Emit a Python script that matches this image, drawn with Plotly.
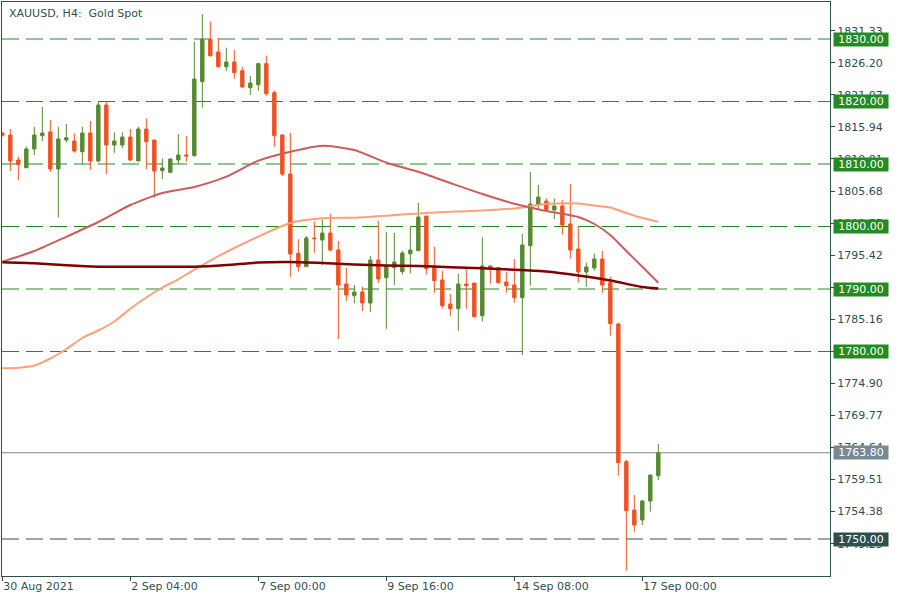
import plotly.graph_objects as go

# ---------------- data ----------------
bars = list(range(83))
opens = [1814.90, 1814.64, 1810.64, 1809.40, 1812.40, 1814.53, 1815.12, 1809.20, 1813.84, 1813.68,
         1811.97, 1814.96, 1810.48, 1819.44, 1813.04, 1813.04, 1814.32, 1810.48, 1815.60, 1813.84,
         1808.93, 1808.67, 1810.64, 1811.44, 1811.33, 1823.17, 1829.95, 1827.92, 1825.57, 1826.32,
         1824.93, 1822.21, 1822.69, 1826.05, 1821.41, 1814.64, 1808.40, 1795.71, 1793.57, 1798.16,
         1797.84, 1798.96, 1796.24, 1790.80, 1788.93, 1789.52, 1787.76, 1794.64, 1791.81, 1793.41,
         1792.77, 1795.65, 1796.13, 1801.68, 1793.57, 1791.44, 1787.60, 1786.85, 1790.80, 1790.96,
         1785.73, 1793.68, 1793.41, 1791.12, 1790.64, 1788.61, 1796.93, 1803.44, 1804.08, 1802.64,
         1803.28, 1800.40, 1796.40, 1792.72, 1793.36, 1794.80, 1791.01, 1784.40, 1762.37, 1754.64,
         1753.04, 1756.08, 1760.13]
highs = [1815.20, 1815.60, 1811.17, 1812.77, 1815.97, 1819.17, 1817.04, 1815.97, 1816.40, 1814.91,
         1815.97, 1816.88, 1819.97, 1820.08, 1815.07, 1815.07, 1815.60, 1815.97, 1817.31, 1813.84,
         1810.91, 1810.91, 1814.80, 1814.48, 1829.57, 1834.00, 1832.77, 1830.21, 1828.61, 1828.24,
         1825.57, 1824.08, 1826.21, 1827.33, 1821.73, 1814.80, 1814.96, 1797.95, 1798.48, 1800.77,
         1801.15, 1802.00, 1797.68, 1793.41, 1790.64, 1790.37, 1795.28, 1800.88, 1799.12, 1798.96,
         1796.08, 1799.92, 1803.81, 1801.68, 1796.72, 1792.88, 1789.20, 1792.40, 1793.25, 1790.96,
         1798.27, 1793.84, 1793.52, 1792.72, 1794.80, 1798.80, 1808.72, 1806.64, 1804.51, 1804.51,
         1804.24, 1806.80, 1799.92, 1794.21, 1795.65, 1796.08, 1791.97, 1784.61, 1762.64, 1757.04,
         1756.24, 1760.24, 1765.20]
lows = [1814.40, 1808.88, 1807.44, 1809.36, 1811.44, 1813.68, 1808.72, 1801.41, 1813.41, 1811.81,
        1809.95, 1809.04, 1810.27, 1808.40, 1811.81, 1812.51, 1810.48, 1810.48, 1809.20, 1804.61,
        1807.60, 1808.51, 1809.95, 1810.37, 1811.17, 1819.01, 1827.17, 1825.41, 1824.93, 1823.65,
        1822.21, 1821.04, 1821.73, 1820.93, 1812.77, 1808.08, 1791.97, 1792.77, 1793.57, 1795.81,
        1793.84, 1796.08, 1782.00, 1788.08, 1787.71, 1786.48, 1786.32, 1790.96, 1783.65, 1790.64,
        1792.29, 1792.45, 1796.13, 1792.29, 1789.41, 1786.85, 1785.73, 1783.33, 1786.85, 1785.41,
        1784.77, 1790.85, 1790.85, 1789.41, 1787.81, 1779.44, 1790.53, 1802.75, 1802.48, 1801.20,
        1798.69, 1794.85, 1791.01, 1790.37, 1792.93, 1789.41, 1782.53, 1760.13, 1744.93, 1751.17,
        1752.24, 1754.37, 1759.44]
closes = [1814.60, 1810.48, 1809.90, 1812.40, 1814.64, 1814.96, 1809.20, 1814.00, 1814.21, 1812.08,
          1814.96, 1810.48, 1819.44, 1813.04, 1813.68, 1814.32, 1810.64, 1815.60, 1813.57, 1808.88,
          1809.36, 1810.80, 1811.44, 1811.28, 1823.60, 1829.95, 1827.33, 1825.57, 1826.32, 1824.61,
          1822.32, 1822.96, 1826.05, 1821.25, 1814.53, 1808.40, 1795.60, 1793.57, 1798.16, 1798.05,
          1798.96, 1796.24, 1790.64, 1789.04, 1789.52, 1787.76, 1794.64, 1791.60, 1793.68, 1794.32,
          1795.76, 1796.24, 1801.52, 1793.25, 1791.33, 1787.33, 1786.85, 1790.80, 1790.53, 1785.57,
          1793.68, 1793.36, 1791.01, 1790.53, 1788.61, 1797.04, 1803.60, 1804.72, 1802.64, 1803.28,
          1800.24, 1796.24, 1792.72, 1793.52, 1794.80, 1790.64, 1784.48, 1762.21, 1754.53, 1752.24,
          1756.08, 1760.24, 1763.80]

# moving averages (bar index, price)
ma_fast_bars = [0, 4, 8, 12, 16, 20, 24, 28, 32, 36, 40, 44, 48, 52, 56, 60, 64, 68, 72, 74, 76, 78, 80, 82]
ma_fast = [1794.37, 1796.08, 1798.35, 1800.72, 1803.44, 1805.36, 1806.32, 1807.97, 1810.53, 1811.97,
           1812.93, 1812.24, 1810.21, 1808.77, 1806.96, 1805.20, 1803.65, 1802.48, 1801.52, 1800.40,
           1798.64, 1796.08, 1793.57, 1791.01]
ma_mid_bars = [0, 2, 4, 6, 8, 10, 12, 14, 16, 18, 20, 22, 24, 28, 32, 36, 40, 44, 48, 52, 56, 60,
               64, 68, 72, 74, 76, 78, 80, 82]
ma_mid = [1777.31, 1777.39, 1777.76, 1778.88, 1780.40, 1782.16, 1783.36, 1784.80, 1786.84, 1788.64,
          1790.24, 1791.55, 1793.10, 1795.92, 1798.40, 1800.56, 1801.31, 1801.41, 1801.73, 1802.08,
          1802.35, 1802.56, 1802.88, 1803.60, 1803.68, 1803.36, 1803.04, 1802.16, 1801.36, 1800.77]
ma_slow_bars = [0, 4, 8, 12, 16, 20, 24, 28, 32, 36, 40, 44, 48, 52, 56, 60, 64, 68, 72, 76, 80, 82]
ma_slow = [1794.27, 1794.11, 1793.79, 1793.57, 1793.57, 1793.57, 1793.57, 1793.84, 1794.24, 1794.32,
           1794.16, 1793.92, 1793.76, 1793.68, 1793.49, 1793.31, 1793.07, 1792.80, 1792.16, 1791.36,
           1790.32, 1790.08]

time_tick_bars = [0, 16, 32, 48, 64, 80]
time_tick_labels = ["30 Aug 2021", "2 Sep 04:00", "7 Sep 00:00", "9 Sep 16:00", "14 Sep 08:00", "17 Sep 00:00"]
price_ticks = [1749.25, 1754.38, 1759.51, 1764.64, 1769.77, 1774.90, 1780.03, 1785.16, 1790.29,
               1795.42, 1800.55, 1805.68, 1810.81, 1815.94, 1821.07, 1826.20, 1831.33]
level_prices = [1830.00, 1820.00, 1810.00, 1800.00, 1790.00, 1780.00]
support_price = 1750.00
last_price = 1763.80
title_text = "XAUUSD, H4:\u00a0 Gold Spot"

# ---------------- style ----------------
BULL = "#558B2F"
BEAR = "#F4511E"
DSG = "#2F4F4F"
LEVEL_GREEN = "#228B22"
LAST_GRAY = "#778899"
FONT = "DejaVu Sans"

fig = go.Figure()
fig.add_trace(go.Candlestick(
    x=bars, open=opens, high=highs, low=lows, close=closes,
    increasing=dict(line=dict(color=BULL, width=1), fillcolor=BULL),
    decreasing=dict(line=dict(color=BEAR, width=1), fillcolor=BEAR),
    whiskerwidth=0, showlegend=False, hoverinfo="skip"))

fig.add_trace(go.Scatter(x=ma_mid_bars, y=ma_mid, mode="lines",
                         line=dict(color="#FFA07A", width=2, shape="spline", smoothing=0.6),
                         showlegend=False, hoverinfo="skip"))
fig.add_trace(go.Scatter(x=ma_fast_bars, y=ma_fast, mode="lines",
                         line=dict(color="#CD5C5C", width=2, shape="spline", smoothing=0.6),
                         showlegend=False, hoverinfo="skip"))
fig.add_trace(go.Scatter(x=ma_slow_bars, y=ma_slow, mode="lines",
                         line=dict(color="#800000", width=2.5, shape="spline", smoothing=0.6),
                         showlegend=False, hoverinfo="skip"))

shapes = []
annotations = []


def level_label(price, color):
    return dict(xref="paper", x=1, xanchor="left", xshift=3, yref="y", y=price,
                yanchor="middle", text=f"{price:.2f}", showarrow=False,
                bgcolor=color, font=dict(family=FONT, size=11, color="white"),
                width=54, height=13, borderpad=0, align="center")


for lv in level_prices:
    shapes.append(dict(type="line", xref="paper", x0=0, x1=1, yref="y", y0=lv, y1=lv,
                       line=dict(color=LEVEL_GREEN, width=1, dash="17px,7px"), layer="below"))
    annotations.append(level_label(lv, LEVEL_GREEN))
shapes.append(dict(type="line", xref="paper", x0=0, x1=1, yref="y", y0=support_price, y1=support_price,
                   line=dict(color=DSG, width=1, dash="17px,7px"), layer="below"))
annotations.append(level_label(support_price, DSG))
shapes.append(dict(type="line", xref="paper", x0=0, x1=1, yref="y", y0=last_price, y1=last_price,
                   line=dict(color=LAST_GRAY, width=1), layer="below"))
annotations.append(level_label(last_price, LAST_GRAY))
annotations.append(dict(xref="paper", x=0, xanchor="left", xshift=5, yref="paper", y=1,
                        yanchor="top", yshift=-3, text=title_text, showarrow=False,
                        font=dict(family=FONT, size=11, color=DSG)))

fig.update_layout(
    width=900, height=600,
    margin=dict(l=2, r=70, t=2, b=24),
    paper_bgcolor="white", plot_bgcolor="white",
    showlegend=False, boxgap=0.4,
    shapes=shapes, annotations=annotations,
    xaxis=dict(range=[-0.04, 103.46], showline=True, mirror=True, linecolor=DSG, linewidth=1,
               ticks="outside", ticklen=4, tickcolor=DSG, tickvals=time_tick_bars,
               ticktext=time_tick_labels, ticklabelposition="outside right",
               tickfont=dict(family=FONT, size=11, color=DSG),
               showgrid=False, zeroline=False, rangeslider=dict(visible=False)),
    yaxis=dict(side="right", range=[1744.08, 1835.92], showline=True, mirror=True,
               linecolor=DSG, linewidth=1, ticks="outside", ticklen=4, tickcolor=DSG,
               tickvals=price_ticks, ticktext=[f"{p:.2f}" for p in price_ticks],
               tickfont=dict(family=FONT, size=11, color=DSG),
               showgrid=False, zeroline=False),
)

fig.write_html("out.html", config={"displayModeBar": False, "staticPlot": True},
               post_script="document.body.style.margin='0';document.body.style.padding='0';")
